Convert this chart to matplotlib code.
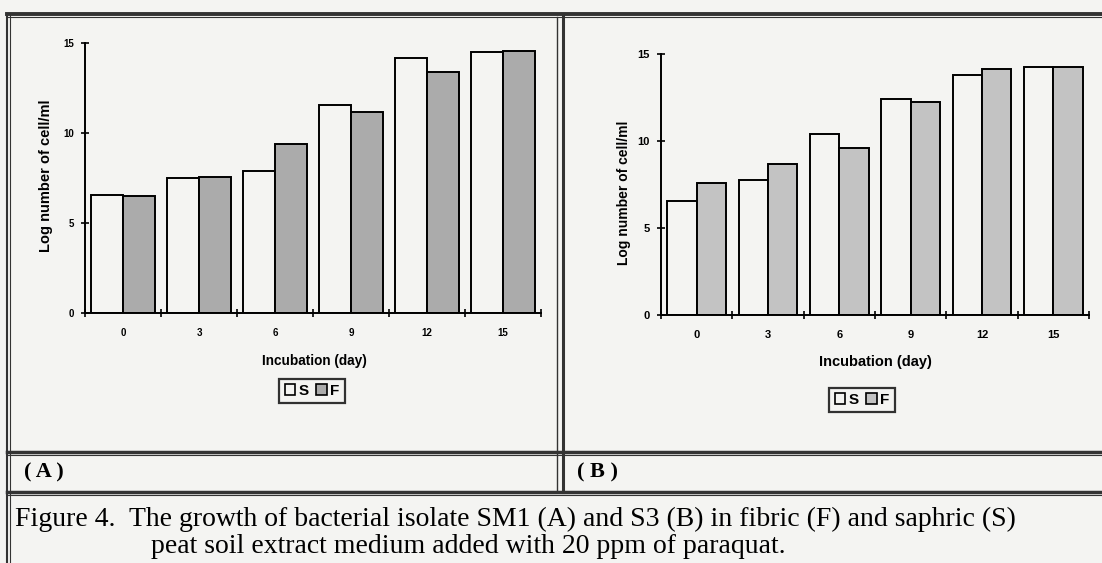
import matplotlib
matplotlib.use("Agg")
import matplotlib.pyplot as plt
from matplotlib.lines import Line2D
from matplotlib.patches import Patch
import numpy as np

# ---- data ----
days = ["0", "3", "6", "9", "12", "15"]
a_S = [6.57, 7.50, 7.91, 11.57, 14.17, 14.50]
a_F = [6.48, 7.54, 9.39, 11.17, 13.37, 14.53]
b_S = [6.55, 7.74, 10.40, 12.41, 13.79, 14.27]
b_F = [7.57, 8.68, 9.58, 12.22, 14.14, 14.27]
yticks = [0, 5, 10, 15]
ylabel = "Log number of cell/ml"
xlabel = "Incubation (day)"
series_names = ["S", "F"]
panel_labels = ["( A )", "( B )"]
caption1 = "Figure 4.  The growth of bacterial isolate SM1 (A) and S3 (B) in fibric (F) and saphric (S)"
caption2 = "peat soil extract medium added with 20 ppm of paraquat."

W, H = 1102, 563
BG = "#f4f4f2"
fig = plt.figure(figsize=(W / 100, H / 100), dpi=100, facecolor=BG)
SANS = "Liberation Sans"
SERIF = "Liberation Serif"


def fx(px):
    return px / W


def fy(py):
    return 1 - py / H


def panel(rect, s_vals, f_vals, fcolor, width, fs_tick, fs_ylab, fs_xlab, fs_leg,
          ylab_xy, xlab_xy, leg_xy):
    ax = fig.add_axes(rect)
    ax.set_facecolor("none")
    x = np.arange(len(days))
    ax.bar(x - width / 2, s_vals, width, color=BG, edgecolor="black", linewidth=1.4)
    ax.bar(x + width / 2, f_vals, width, color=fcolor, edgecolor="black", linewidth=1.4)
    ax.set_xlim(-0.5, len(days) - 0.5)
    ax.set_ylim(0, 15)
    for s in ["top", "right"]:
        ax.spines[s].set_visible(False)
    for s in ["left", "bottom"]:
        ax.spines[s].set_linewidth(1.4)
    ax.set_yticks(yticks)
    ax.set_yticklabels([str(v) for v in yticks], fontsize=fs_tick, fontweight="bold", family=SANS)
    ax.tick_params(axis="y", direction="inout", length=6, width=1.2, pad=5)
    ax.set_xticks(x)
    ax.set_xticklabels(days, fontsize=fs_tick, fontweight="bold", family=SANS)
    ax.tick_params(axis="x", which="major", length=0, pad=11)
    ax.set_xticks(np.arange(-0.5, len(days)), minor=True)
    ax.tick_params(axis="x", which="minor", direction="inout", length=6, width=1.2)
    ax.set_ylabel(ylabel, fontsize=fs_ylab, fontweight="bold", family=SANS)
    ax.yaxis.set_label_coords(*ylab_xy)
    ax.set_xlabel(xlabel, fontsize=fs_xlab, fontweight="bold", family=SANS)
    ax.xaxis.set_label_coords(*xlab_xy)
    handles = [Patch(facecolor=BG, edgecolor="black", linewidth=1.2),
               Patch(facecolor=fcolor, edgecolor="black", linewidth=1.2)]
    leg = fig.legend(handles, series_names, loc="center", bbox_to_anchor=leg_xy,
                     ncol=2, handlelength=0.7, handleheight=0.7, handletextpad=0.2,
                     columnspacing=0.5, borderpad=0.35, fancybox=False, frameon=True,
                     prop={"family": SANS, "weight": "bold", "size": fs_leg})
    leg.get_frame().set_edgecolor("black")
    leg.get_frame().set_linewidth(1.6)
    leg.get_frame().set_facecolor(BG)
    return ax


# Panel A: axis x 85..541, y 43..313
panel([fx(85), fy(313), (541 - 85) / W, (313 - 43) / H], a_S, a_F, "#ababab", 0.42,
      7, 10.5, 9.8, 11, (-0.07, 0.51), (0.502, -0.15), (fx(312), fy(391)))
# Panel B: axis x 661..1089, y 54..315
panel([fx(661), fy(315), (1089 - 661) / W, (315 - 54) / H], b_S, b_F, "#c3c3c3", 0.41,
      8, 10, 10.5, 11, (-0.07, 0.47), (0.502, -0.155), (fx(862), fy(400)))

# ---- table frame ----
def hline(y, x0, x1, lw=2.0):
    fig.add_artist(Line2D([fx(x0), fx(x1)], [fy(y), fy(y)], color="#333333", lw=lw))


def vline(x, y0, y1, lw=2.0):
    fig.add_artist(Line2D([fx(x), fx(x)], [fy(y0), fy(y1)], color="#333333", lw=lw))


hline(14, 7, W, 2.8)
hline(17, 7, W, 0.8)
hline(452, 7, W, 2.5)
hline(455, 7, W, 0.8)
hline(492, 7, W, 2.5)
hline(495, 7, W, 0.8)
vline(7, 14, H, 1.5)
vline(10, 14, H, 0.8)
vline(557, 17, 492, 1.0)
vline(563, 14, 492, 2.2)

# ---- panel labels and caption ----
fig.text(fx(24), fy(472), panel_labels[0], family=SERIF, fontweight="bold", fontsize=16, va="center")
fig.text(fx(577), fy(472), panel_labels[1], family=SERIF, fontweight="bold", fontsize=16, va="center")
fig.text(fx(15), fy(526), caption1, family=SERIF, fontsize=20, va="baseline")
fig.text(fx(151), fy(553), caption2, family=SERIF, fontsize=20, va="baseline")

fig.savefig("out.png", dpi=100, facecolor=BG)
